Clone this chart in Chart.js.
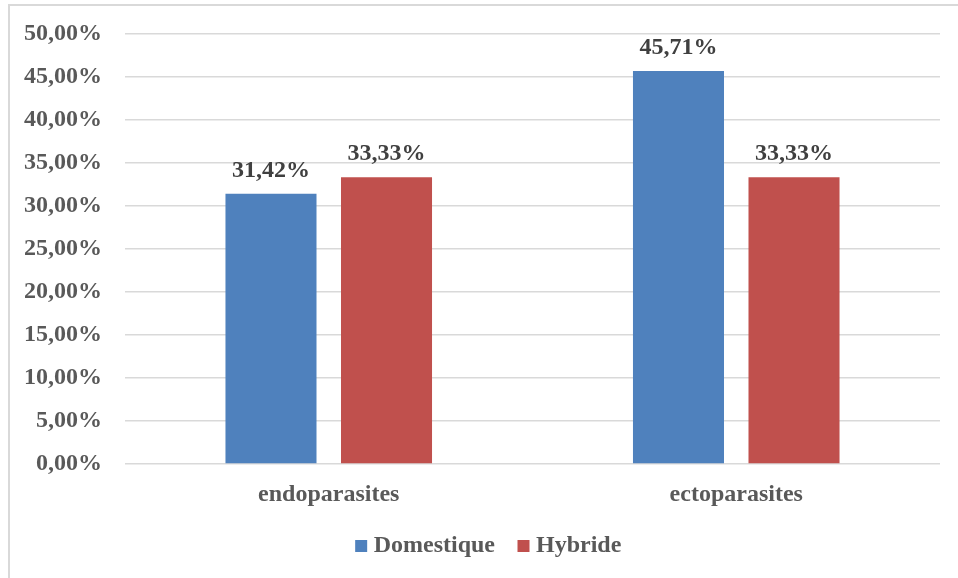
<!DOCTYPE html>
<html>
<head>
<meta charset="utf-8">
<script src="https://cdn.jsdelivr.net/npm/chart.js@4/dist/chart.umd.min.js"></script>
<style>
  html, body { margin: 0; padding: 0; background: #ffffff; overflow: hidden; }
  #frame { position: absolute; left: 8px; top: 4px; width: 980px; height: 600px;
           border-left: 2px solid #d9d9d9; border-top: 2px solid #d9d9d9; }
  #wrap { position: absolute; left: 0; top: 0; width: 958px; height: 578px; }
</style>
</head>
<body>
<div id="frame"></div>
<div id="wrap"><canvas id="chart"></canvas></div>
<script>
// Parasite prevalence by host type
const categories = ['endoparasites', 'ectoparasites'];
const seriesNames = ['Domestique', 'Hybride'];
const domestique = [31.42, 45.71];
const hybride = [33.33, 33.33];
const yMin = 0;
const yMax = 50;
const yStep = 5;

const FONT = '"Liberation Serif", "Times New Roman", serif';
const FONT_SIZE = 24;
const pct = v => v.toFixed(2).replace('.', ',') + '%';

// Value labels above each bar
const valueLabels = {
  id: 'valueLabels',
  afterDatasetsDraw(chart) {
    const ctx = chart.ctx;
    ctx.save();
    ctx.font = 'bold ' + FONT_SIZE + 'px ' + FONT;
    ctx.fillStyle = '#404040';
    ctx.textAlign = 'center';
    ctx.textBaseline = 'alphabetic';
    chart.data.datasets.forEach((ds, i) => {
      chart.getDatasetMeta(i).data.forEach((bar, j) => {
        ctx.fillText(pct(ds.data[j]), bar.x, bar.y - 17);
      });
    });
    ctx.restore();
  }
};

// Nudge the centred legend row slightly to the right
const legendOffset = {
  id: 'legendOffset',
  afterLayout(chart) {
    const lg = chart.legend;
    if (lg) { lg.left += 21; lg.right += 21; }
  }
};

new Chart(document.getElementById('chart'), {
  type: 'bar',
  data: {
    labels: categories,
    datasets: [
      { label: seriesNames[0], data: domestique, backgroundColor: '#4f81bd', borderWidth: 0 },
      { label: seriesNames[1], data: hybride, backgroundColor: '#c0504d', borderWidth: 0 }
    ]
  },
  options: {
    responsive: true,
    maintainAspectRatio: false,
    animation: false,
    devicePixelRatio: 1,
    datasets: { bar: { categoryPercentage: 0.567, barPercentage: 0.788 } },
    layout: { padding: { top: 34, right: 18, left: 0, bottom: 10 } },
    scales: {
      y: {
        min: yMin, max: yMax,
        ticks: {
          stepSize: yStep, padding: 23, color: '#595959',
          font: { family: FONT, size: FONT_SIZE, weight: 'bold' },
          callback: v => pct(v)
        },
        grid: { color: '#d9d9d9', lineWidth: 1.5, drawTicks: false },
        border: { display: false },
        afterFit: s => { s.width = 125; s.paddingTop = 0; s.paddingBottom = 0; }
      },
      x: {
        ticks: {
          padding: 16, color: '#595959',
          font: { family: FONT, size: FONT_SIZE, weight: 'bold' }
        },
        grid: { display: false, drawTicks: false },
        border: { display: false },
        afterFit: s => { s.height = 42; }
      }
    },
    plugins: {
      legend: {
        position: 'bottom',
        labels: {
          usePointStyle: true, pointStyle: 'rect',
          boxWidth: 1, boxHeight: 12, padding: 28,
          color: '#595959',
          font: { family: FONT, size: FONT_SIZE, weight: 'bold' }
        }
      },
      tooltip: { enabled: false }
    }
  },
  plugins: [valueLabels, legendOffset]
});
</script>
</body>
</html>
